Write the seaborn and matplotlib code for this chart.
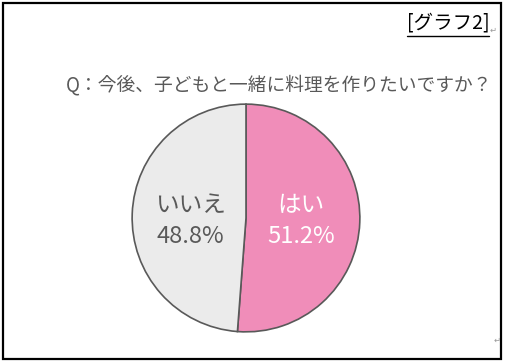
import matplotlib
matplotlib.use("Agg")
import matplotlib.pyplot as plt
import seaborn as sns
from matplotlib.patches import Rectangle
from matplotlib.lines import Line2D

sns.set_style("white")
plt.rcParams['font.family'] = ['Noto Sans CJK JP', 'DejaVu Sans']

title = "Q：今後、子どもと一緒に料理を作りたいですか？"
tag = "[グラフ2]"
categories = ["はい", "いいえ"]
values = [51.2, 48.8]
colors = ["#F08DB9", "#EBEBEB"]
label_colors = ["#FFFFFF", "#595959"]

W, H = 507, 364
fig = plt.figure(figsize=(W / 100, H / 100), dpi=100)
fig.patch.set_facecolor("white")

# frame
fig.add_artist(Rectangle((2.5 / W, 1 - 358.5 / H), 498 / W, 356 / H,
                         transform=fig.transFigure, fill=False,
                         edgecolor="black", linewidth=1.6))

# title
fig.text(279 / W, 1 - 85 / H, title, ha="center", va="center",
         fontsize=13.5, color="#595959")

# tag with underline
fig.text(448 / W, 1 - 23 / H, tag, ha="center", va="center",
         fontsize=14, color="black")
fig.add_artist(Line2D([407 / W, 489 / W], [1 - 35.5 / H, 1 - 35.5 / H],
                      transform=fig.transFigure, color="black", linewidth=1))
fig.text(493 / W, 1 - 30 / H, "↵", ha="center", va="center",
         fontsize=6, color="#999999", family=["DejaVu Sans"])
fig.text(497 / W, 1 - 340 / H, "↵", ha="center", va="center",
         fontsize=6, color="#999999", family=["DejaVu Sans"])

# pie
cx, cy, r = 246, 218, 115
ax = fig.add_axes([(cx - r) / W, 1 - (cy + r) / H, 2 * r / W, 2 * r / H])
ax.pie(values, colors=colors, startangle=90, counterclock=False, radius=1,
       wedgeprops=dict(edgecolor="#595959", linewidth=1.2))
ax.set_xlim(-1.01, 1.01)
ax.set_ylim(-1.01, 1.01)
ax.set_aspect("equal")
ax.axis("off")

label_x = [0.48, -0.49]
for cat, val, lx, lc in zip(categories, values, label_x, label_colors):
    ax.text(lx, 0.11, cat, ha="center", va="center", fontsize=17, color=lc)
    ax.text(lx, -0.165, f"{val:.1f}%", ha="center", va="center", fontsize=17, color=lc)

fig.savefig("out.png", dpi=100)
